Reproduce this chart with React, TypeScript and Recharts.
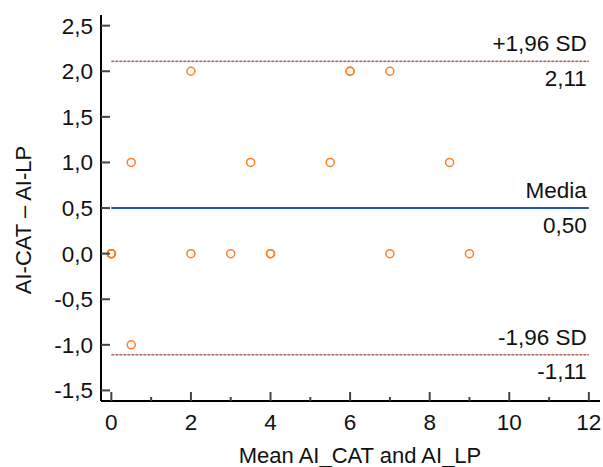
import React from 'react';
import { ScatterChart, Scatter, XAxis, YAxis, ReferenceLine } from 'recharts';

// Bland-Altman points: mean of the two methods (x) and their difference (y)
const meanValues = [0, 0, 0, 0, 0.5, 0.5, 2, 2, 3, 3.5, 4, 4, 5.5, 6, 6, 7, 7, 8.5, 9];
const diffValues = [0, 0, 0, 0, 1, -1, 2, 0, 0, 1, 0, 0, 1, 2, 2, 2, 0, 1, 0];

const xTicks = [0, 1, 2, 3, 4, 5, 6, 7, 8, 9, 10, 11, 12];
const yTicks = [-1.5, -1, -0.5, 0, 0.5, 1, 1.5, 2, 2.5];
const xDomain = [-0.26, 12.28];
const yDomain = [-1.616, 2.617];

const lineStart = 0;
const lineEnd = 12;
const meanDiff = 0.5;
const upperLoA = 2.11;
const lowerLoA = -1.11;
const meanTitle = 'Media';
const upperTitle = '+1,96 SD';
const lowerTitle = '-1,96 SD';

const xTitle = 'Mean AI_CAT and AI_LP';
const yTitle = 'AI-CAT \u2013 AI-LP';

const data = meanValues.map((m, i) => ({ x: m, y: diffValues[i] }));

const FONT = "'Liberation Sans', Arial, sans-serif";
const FS = 22.5;
const FS_TITLE = 22;
const fmt = (v: number, d: number) => v.toFixed(d).replace('.', ',');

const XTick = (props: any) => {
  const { x, y, payload } = props;
  const v = payload.value;
  const major = v % 2 === 0;
  return (
    <g>
      <line x1={x} x2={x} y1={y} y2={y - (major ? 9 : 4)} stroke="#444" strokeWidth={2} />
      {major && (
        <text x={x} y={y + 29} textAnchor="middle" fontFamily={FONT} fontSize={FS} fill="#111">
          {String(v)}
        </text>
      )}
    </g>
  );
};

const YTick = (props: any) => {
  const { x, y, payload } = props;
  return (
    <g>
      <line x1={x} x2={x + 9} y1={y} y2={y} stroke="#444" strokeWidth={2} />
      <text x={x - 8} y={y + 8} textAnchor="end" fontFamily={FONT} fontSize={FS} fill="#111">
        {fmt(payload.value, 1)}
      </text>
    </g>
  );
};

const makeLineLabel = (title: string, value: number) => (props: any) => {
  const vb = props.viewBox || {};
  const right = vb.x + vb.width - 2;
  return (
    <g>
      <text x={right} y={vb.y - 10} textAnchor="end" fontFamily={FONT} fontSize={FS} fill="#111">
        {title}
      </text>
      <text x={right} y={vb.y + 24.5} textAnchor="end" fontFamily={FONT} fontSize={FS} fill="#111">
        {fmt(value, 2)}
      </text>
    </g>
  );
};

const Dot = (props: any) => {
  const { cx, cy } = props;
  return <circle cx={cx} cy={cy} r={4} fill="none" stroke="#ff7f27" strokeWidth={1.5} />;
};

export default function App() {
  return (
    <div style={{ position: 'absolute', left: 0, top: 0, width: 603, height: 467, background: '#fff' }}>
      <ScatterChart width={603} height={467} margin={{ top: 15, right: 3, bottom: 0, left: 0 }}>
        <XAxis
          type="number"
          dataKey="x"
          domain={xDomain}
          ticks={xTicks}
          allowDataOverflow
          height={66}
          tickSize={0}
          tickMargin={0}
          tickLine={false}
          axisLine={{ stroke: '#000', strokeWidth: 2 }}
          tick={<XTick />}
          interval={0}
          label={(p: any) => (
            <text x={360} y={463} textAnchor="middle" fontFamily={FONT} fontSize={FS_TITLE} fill="#111">
              {xTitle}
            </text>
          )}
        />
        <YAxis
          type="number"
          dataKey="y"
          domain={yDomain}
          ticks={yTicks}
          allowDataOverflow
          width={101}
          tickSize={0}
          tickMargin={0}
          tickLine={false}
          axisLine={{ stroke: '#000', strokeWidth: 2 }}
          tick={<YTick />}
          interval={0}
          label={(p: any) => (
            <text
              x={31}
              y={220}
              transform="rotate(-90 31 220)"
              textAnchor="middle"
              fontFamily={FONT}
              fontSize={FS_TITLE}
              fill="#111"
            >
              {yTitle}
            </text>
          )}
        />
        <ReferenceLine
          segment={[{ x: lineStart, y: upperLoA }, { x: lineEnd, y: upperLoA }]}
          stroke="#8b1010"
          strokeWidth={1}
          strokeDasharray="3 1"
          label={makeLineLabel(upperTitle, upperLoA)}
        />
        <ReferenceLine
          segment={[{ x: lineStart, y: meanDiff }, { x: lineEnd, y: meanDiff }]}
          stroke="#1f5aa6"
          strokeWidth={2}
          label={makeLineLabel(meanTitle, meanDiff)}
        />
        <ReferenceLine
          segment={[{ x: lineStart, y: lowerLoA }, { x: lineEnd, y: lowerLoA }]}
          stroke="#8b1010"
          strokeWidth={1}
          strokeDasharray="3 1"
          label={makeLineLabel(lowerTitle, lowerLoA)}
        />
        <Scatter data={data} shape={<Dot />} isAnimationActive={false} />
      </ScatterChart>
    </div>
  );
}
